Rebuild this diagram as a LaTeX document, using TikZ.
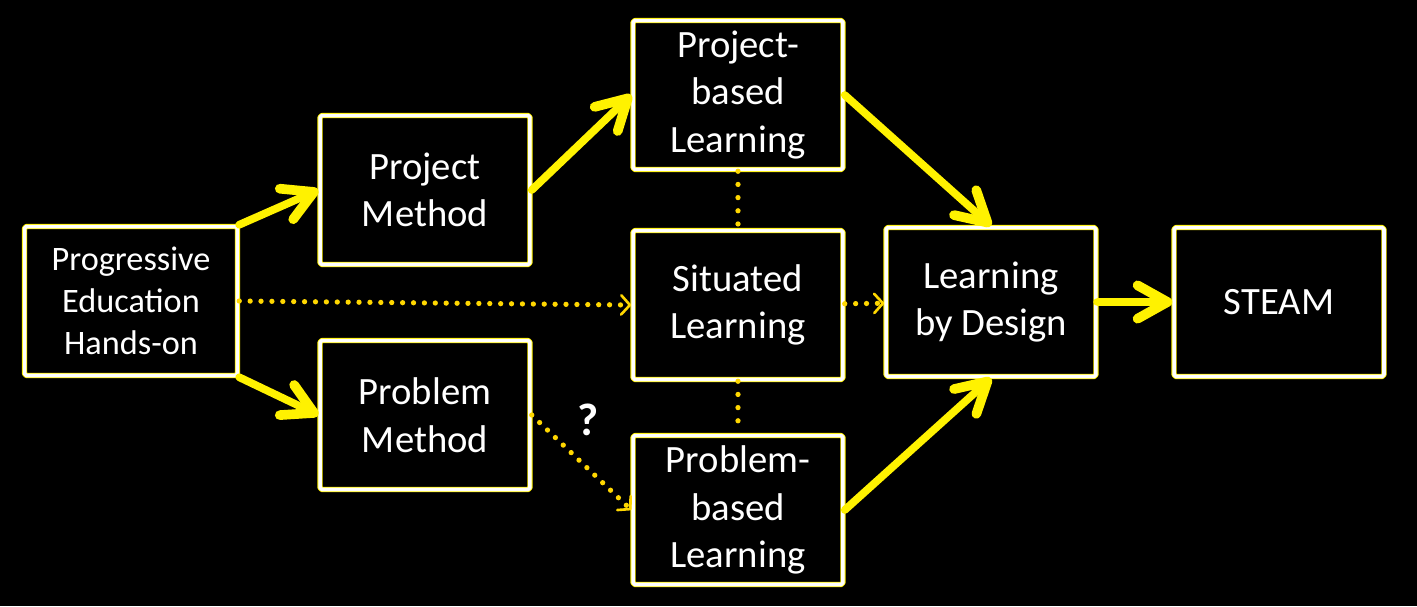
\documentclass[tikz,border=0pt]{standalone}
\usepackage{fontspec}
\setmainfont{Carlito}
\usetikzlibrary{arrows.meta}
\definecolor{flash}{RGB}{255,242,0}
\definecolor{dotc}{RGB}{255,215,0}
\begin{document}
\begin{tikzpicture}[x=0.02cm,y=-0.02cm,line join=round,line cap=round,
	box/.style={draw=white,line width=2pt,rounded corners=1pt,minimum width=4.2cm,minimum height=2.98cm,align=center,text=white,
		font=\fontsize{22}{27}\selectfont,preaction={draw=flash,line width=3pt}},
	big/.style={flash,line width=4.4pt,-{Straight Barb[length=17pt,width=19pt,line width=5.5pt,round]}},
	dots/.style={dotc,line width=3pt,dash pattern=on 0pt off 6.2pt},
	tip/.style={-{Straight Barb[length=5pt,width=11pt,line width=1.5pt,round]}}]
	 \fill[black] (0,0) rectangle (1417,606);
	 \node[box,minimum width=4.26cm,font=\fontsize{19.5}{24}\selectfont] (prog) at (131,301) {Progressive\\Education\\Hands-on};
	 \node[box] (pm) at (425,190) {Project\\Method};
	 \node[box] (prm) at (425,415) {Problem\\Method};
	 \node[box] (pbl) at (738,95) {Project-\\based\\Learning};
	 \node[box] (sit) at (738,305) {Situated\\Learning};
	 \node[box] (prbl) at (738,510) {Problem-\\based\\Learning};
	 \node[box] (lbd) at (991,302) {Learning\\by Design};
	 \node[box] (steam) at (1279,302) {STEAM};
	 \node[text=white,font=\fontsize{26}{30}\selectfont\bfseries] (q) at (588,420) {?};
	 \draw[big] (prog.north east)--(pm.west);
	 \draw[big] (prog.south east)--(prm.west);
	 \draw[big] (pm.east)--(pbl.west);
	 \draw[big] (pbl.east)--(lbd.north);
	 \draw[big] (prbl.east)--(lbd.south);
	 \draw[big,line width=5pt] (lbd)--(steam);
	 \draw[dots,tip] (prog.east)--(sit.west);
	 \draw[dots,tip] (sit)--(lbd);
	 \draw[dots,tip] (prm.east)--(prbl.west);
	 \draw[dots,dash pattern=on 0pt off 7.5pt] (pbl)--(sit) (sit)--(prbl);
\end{tikzpicture}
\end{document}
